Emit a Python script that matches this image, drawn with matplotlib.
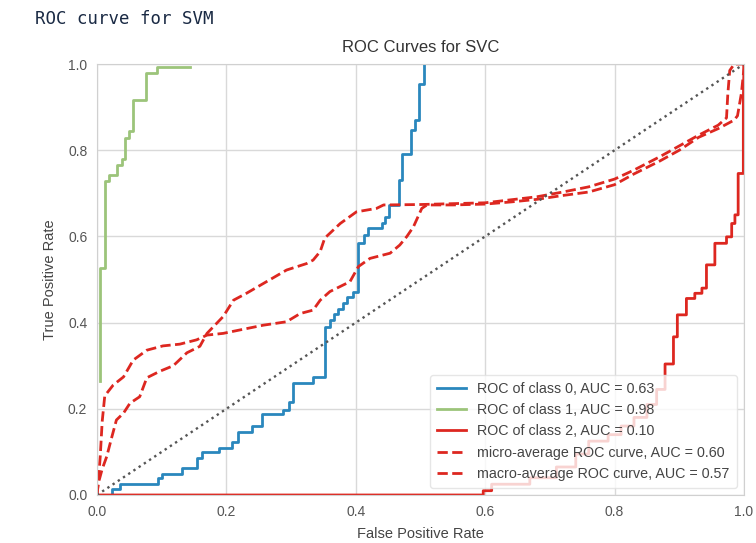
import matplotlib.pyplot as plt

# ROC points (fpr, tpr)
class0_fpr = [0.023, 0.023, 0.036, 0.036, 0.095, 0.095, 0.1, 0.1, 0.131, 0.131, 0.154, 0.154,
              0.162, 0.162, 0.188, 0.188, 0.208, 0.208, 0.218, 0.218, 0.239, 0.239, 0.255, 0.255,
              0.288, 0.288, 0.296, 0.296, 0.303, 0.303, 0.334, 0.334, 0.352, 0.352, 0.36, 0.36,
              0.366, 0.366, 0.372, 0.372, 0.38, 0.38, 0.387, 0.387, 0.395, 0.395, 0.404, 0.404,
              0.412, 0.412, 0.419, 0.419, 0.44, 0.44, 0.445, 0.445, 0.452, 0.452, 0.467, 0.467,
              0.472, 0.472, 0.485, 0.485, 0.491, 0.491, 0.498, 0.498, 0.506, 0.506]
class0_tpr = [0.0, 0.013, 0.013, 0.025, 0.025, 0.039, 0.039, 0.049, 0.049, 0.062, 0.062, 0.085,
              0.085, 0.1, 0.1, 0.11, 0.11, 0.124, 0.124, 0.147, 0.147, 0.16, 0.16, 0.188,
              0.188, 0.197, 0.197, 0.216, 0.216, 0.26, 0.26, 0.273, 0.273, 0.39, 0.39, 0.405,
              0.405, 0.42, 0.42, 0.432, 0.432, 0.445, 0.445, 0.46, 0.46, 0.472, 0.472, 0.584,
              0.584, 0.603, 0.603, 0.619, 0.619, 0.63, 0.63, 0.646, 0.646, 0.673, 0.673, 0.731,
              0.731, 0.791, 0.791, 0.847, 0.847, 0.87, 0.87, 0.954, 0.954, 1.0]

class1_fpr = [0.004, 0.004, 0.012, 0.012, 0.019, 0.019, 0.031, 0.031, 0.038, 0.038, 0.044, 0.044,
              0.049, 0.049, 0.055, 0.055, 0.075, 0.075, 0.093, 0.093, 0.144]
class1_tpr = [0.265, 0.527, 0.527, 0.729, 0.729, 0.742, 0.742, 0.765, 0.765, 0.78, 0.78, 0.828,
              0.828, 0.844, 0.844, 0.917, 0.917, 0.979, 0.979, 0.992, 0.992]

class2_fpr = [0.0, 0.597, 0.597, 0.61, 0.61, 0.669, 0.669, 0.71, 0.71, 0.74, 0.74, 0.76, 0.76,
              0.79, 0.79, 0.81, 0.81, 0.83, 0.83, 0.85, 0.85, 0.865, 0.865, 0.878, 0.878, 0.891,
              0.891, 0.897, 0.897, 0.911, 0.911, 0.924, 0.924, 0.935, 0.935, 0.942, 0.942, 0.955,
              0.955, 0.973, 0.973, 0.981, 0.981, 0.986, 0.986, 0.991, 0.991, 0.999, 0.999, 1.0]
class2_tpr = [0.0, 0.0, 0.01, 0.01, 0.025, 0.025, 0.04, 0.04, 0.065, 0.065, 0.095, 0.095, 0.125,
              0.125, 0.14, 0.14, 0.16, 0.16, 0.18, 0.18, 0.21, 0.21, 0.245, 0.245, 0.304, 0.304,
              0.367, 0.367, 0.418, 0.418, 0.456, 0.456, 0.468, 0.468, 0.48, 0.48, 0.534, 0.534,
              0.584, 0.584, 0.599, 0.599, 0.63, 0.63, 0.65, 0.65, 0.746, 0.746, 0.916, 1.0]

micro_fpr = [0.0, 0.002, 0.008, 0.015, 0.023, 0.03, 0.041, 0.051, 0.066, 0.077, 0.097, 0.118,
             0.139, 0.159, 0.17, 0.195, 0.211, 0.231, 0.262, 0.293, 0.324, 0.334, 0.345, 0.352,
             0.376, 0.401, 0.432, 0.443, 0.5, 0.55, 0.6, 0.64, 0.68, 0.72, 0.76, 0.8, 0.83,
             0.87, 0.9, 0.93, 0.96, 0.973, 0.975, 0.978, 0.985, 1.0]
micro_tpr = [0.0, 0.027, 0.06, 0.089, 0.135, 0.174, 0.19, 0.213, 0.228, 0.272, 0.287, 0.3,
             0.33, 0.345, 0.375, 0.414, 0.452, 0.468, 0.495, 0.522, 0.537, 0.545, 0.565, 0.596,
             0.63, 0.657, 0.665, 0.673, 0.674, 0.676, 0.678, 0.685, 0.692, 0.703, 0.715, 0.733,
             0.754, 0.785, 0.81, 0.835, 0.858, 0.875, 0.93, 0.985, 1.0, 1.0]

macro_fpr = [0.0, 0.002, 0.005, 0.008, 0.012, 0.025, 0.041, 0.056, 0.077, 0.102, 0.128, 0.154,
             0.17, 0.195, 0.221, 0.257, 0.293, 0.314, 0.334, 0.345, 0.36, 0.391, 0.404, 0.422,
             0.453, 0.468, 0.479, 0.489, 0.502, 0.51, 0.55, 0.6, 0.64, 0.68, 0.72, 0.76, 0.8,
             0.83, 0.87, 0.9, 0.93, 0.96, 0.985, 0.99, 0.996, 1.0, 1.0]
macro_tpr = [0.0, 0.03, 0.089, 0.17, 0.23, 0.255, 0.274, 0.313, 0.336, 0.346, 0.35, 0.36,
             0.371, 0.375, 0.383, 0.394, 0.402, 0.421, 0.429, 0.452, 0.472, 0.495, 0.53, 0.549,
             0.561, 0.58, 0.6, 0.622, 0.665, 0.673, 0.673, 0.675, 0.68, 0.686, 0.695, 0.703,
             0.72, 0.745, 0.775, 0.8, 0.83, 0.85, 0.87, 0.88, 0.932, 0.99, 1.0]

labels = ['ROC of class 0, AUC = 0.63', 'ROC of class 1, AUC = 0.98', 'ROC of class 2, AUC = 0.10',
          'micro-average ROC curve, AUC = 0.60', 'macro-average ROC curve, AUC = 0.57']

blue = '#2a87bd'
green = '#9cc47a'
red = '#dd2720'

plt.rcParams['font.family'] = ['Liberation Sans', 'DejaVu Sans']

fig = plt.figure(figsize=(7.56, 5.43), dpi=100)
ax = fig.add_axes([0.1283, 0.0884, 0.8558, 0.7937])

ax.plot(class0_fpr, class0_tpr, color=blue, lw=2, label=labels[0])
ax.plot(class1_fpr, class1_tpr, color=green, lw=2, label=labels[1])
ax.plot(class2_fpr, class2_tpr, color=red, lw=2, label=labels[2])
ax.plot(micro_fpr, micro_tpr, color=red, lw=2, ls='--', label=labels[3])
ax.plot(macro_fpr, macro_tpr, color=red, lw=2, ls='--', label=labels[4])
ax.plot([0, 1], [0, 1], color='#555555', lw=1.7, ls=':')

ax.set_xlim(0, 1)
ax.set_ylim(0, 1)
ax.grid(True, color='#d9d9d9', lw=1)
ax.set_axisbelow(True)
for s in ax.spines.values():
    s.set_color('#d0d0d0')
ax.tick_params(length=0, pad=7, labelsize=10, labelcolor='#555555')
ax.set_xticks([0, 0.2, 0.4, 0.6, 0.8, 1.0])
ax.set_yticks([0, 0.2, 0.4, 0.6, 0.8, 1.0])

ax.set_title('ROC Curves for SVC', fontsize=12, color='#333333', pad=9)
ax.set_xlabel('False Positive Rate', fontsize=10.5, color='#444444', labelpad=6)
ax.set_ylabel('True Positive Rate', fontsize=10.5, color='#444444', labelpad=8)

leg = ax.legend(loc='lower right', fontsize=10.3, frameon=True, framealpha=0.8,
                edgecolor='#e0e0e0', handlelength=2.0, labelspacing=0.5,
                borderaxespad=0.5, borderpad=0.5)
for t in leg.get_texts():
    t.set_color('#444444')

fig.text(0.046, 0.965, 'ROC curve for SVM', fontsize=12.5, color='#1a2a44',
         family='DejaVu Sans Mono', va='center')

fig.savefig('out.png', dpi=100)
